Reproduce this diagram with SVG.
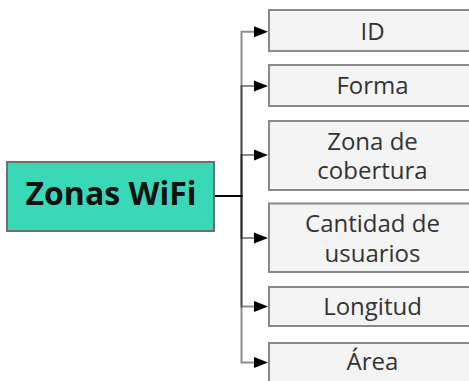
<svg xmlns="http://www.w3.org/2000/svg" width="469" height="381" viewBox="0 0 469 381">
<style>
.box{fill:#f4f4f4;stroke:#8a8a8a;stroke-width:2}
.lbl{font-family:"Open Sans","Noto Sans",sans-serif;font-size:24px;fill:#333;text-anchor:middle}
.main{fill:#39d9b8;stroke:#6e6e6e;stroke-width:2}
.mlbl{font-family:"Open Sans","Noto Sans",sans-serif;font-size:32px;font-weight:bold;fill:#111;text-anchor:middle}
.con{fill:none;stroke:#000;stroke-opacity:0.45;stroke-width:2}
.ah{fill:#000}
</style>
<rect width="469" height="381" fill="#fff"/>
<g id="connectors">
<path class="con" d="M214 196H241.5V31.7H255"/>
<path class="con" d="M214 196H241.5V86H255"/>
<path class="con" d="M214 196H241.5V155H255"/>
<path class="con" d="M214 196H241.5V238H255"/>
<path class="con" d="M214 196H241.5V306.5H255"/>
<path class="con" d="M214 196H241.5V362.5H255"/>
<polygon class="ah" points="254,26.2 268,31.7 254,37.2"/>
<polygon class="ah" points="254,80.5 268,86 254,91.5"/>
<polygon class="ah" points="254,149.5 268,155 254,160.5"/>
<polygon class="ah" points="254,232.5 268,238 254,243.5"/>
<polygon class="ah" points="254,301 268,306.5 254,312"/>
<polygon class="ah" points="254,357 268,362.5 254,368"/>
</g>
<g id="main">
<rect class="main" x="7" y="162" width="207" height="69"/>
<text class="mlbl" x="111" y="205">Zonas WiFi</text>
</g>
<g id="n-id">
<rect class="box" x="269" y="10" width="210" height="41"/>
<text class="lbl" x="372.5" y="39.5">ID</text>
</g>
<g id="n-forma">
<rect class="box" x="269" y="65" width="210" height="41"/>
<text class="lbl" x="372.5" y="94">Forma</text>
</g>
<g id="n-zona">
<rect class="box" x="269" y="121" width="210" height="69"/>
<text class="lbl" x="372.5" y="149.5">Zona de</text>
<text class="lbl" x="372.5" y="178.5">cobertura</text>
</g>
<g id="n-cantidad">
<rect class="box" x="269" y="203.5" width="210" height="68.5"/>
<text class="lbl" x="372.5" y="231.5">Cantidad de</text>
<text class="lbl" x="372.5" y="262">usuarios</text>
</g>
<g id="n-longitud">
<rect class="box" x="269" y="287" width="210" height="39"/>
<text class="lbl" x="372.5" y="315">Longitud</text>
</g>
<g id="n-area">
<rect class="box" x="269" y="343" width="210" height="50"/>
<text class="lbl" x="372.5" y="370">Área</text>
</g>
</svg>
